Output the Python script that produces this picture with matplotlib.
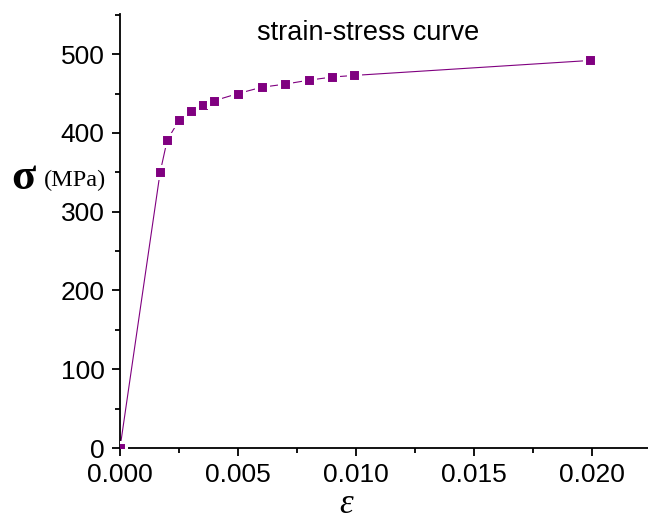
import matplotlib
matplotlib.use("Agg")
import matplotlib.pyplot as plt
from matplotlib.ticker import MultipleLocator, FormatStrFormatter

# strain / stress test points
strain = [0.0, 0.0017, 0.002, 0.0025, 0.003, 0.0035, 0.004, 0.005,
          0.006, 0.007, 0.008, 0.009, 0.0099, 0.0199]
stress = [0, 350, 391, 416, 428, 435, 441, 450,
          458, 462, 467, 471, 473, 492]

plt.rcParams['font.family'] = ['Liberation Sans', 'DejaVu Sans']

fig = plt.figure(figsize=(6.48, 5.23), dpi=100)
ax = fig.add_axes([0.1852, 0.1434, 0.8148, 0.8298])

purple = '#800080'
# thin line first, then markers with a white rim so the line stops short of them
ax.plot(strain, stress, color=purple, lw=0.8, zorder=2)
ax.plot(strain, stress, ls='none', marker='s', ms=9.2, mfc=purple,
        mec='white', mew=2.2, zorder=3)

ax.set_xlim(0, 0.02237)
ax.set_ylim(0, 551)

ax.xaxis.set_major_locator(MultipleLocator(0.005))
ax.xaxis.set_minor_locator(MultipleLocator(0.0025))
ax.xaxis.set_major_formatter(FormatStrFormatter('%.3f'))
ax.yaxis.set_major_locator(MultipleLocator(100))
ax.yaxis.set_minor_locator(MultipleLocator(50))

for s in ['top', 'right']:
    ax.spines[s].set_visible(False)
for s in ['left', 'bottom']:
    ax.spines[s].set_linewidth(1.3)

ax.tick_params(which='major', direction='out', length=6, width=1.3,
               labelsize=19, pad=5)
ax.tick_params(which='minor', direction='out', length=3.5, width=1.3)
ax.tick_params(axis='x', which='major', pad=5)

ax.text(0.469, 0.986, 'strain-stress curve', transform=ax.transAxes,
        ha='center', va='top', fontsize=19.5)

# axis labels: sigma (MPa) on the left, italic epsilon underneath
fig.text(0.017, 0.660, '\u03c3', fontsize=32, family='Liberation Serif',
         weight='bold', ha='left', va='center')
fig.text(0.067, 0.655, '(MPa)', fontsize=17.5, family='Liberation Serif',
         ha='left', va='center')
fig.text(0.534, 0.003, '\u03b5', fontsize=25, family='Liberation Serif',
         style='italic', ha='center', va='bottom')

fig.savefig('out.png', dpi=100)
